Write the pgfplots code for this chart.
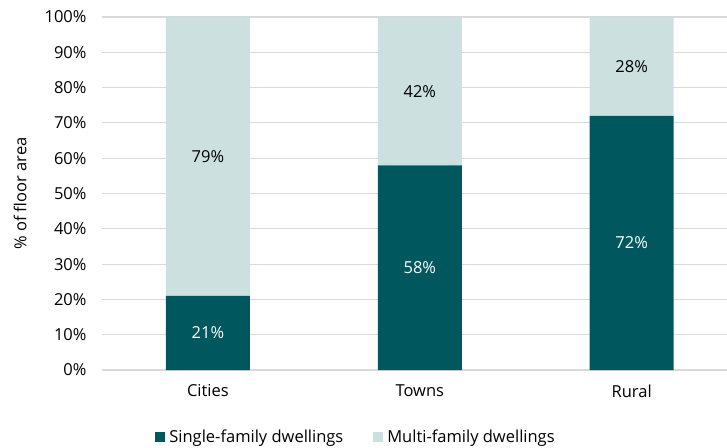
\documentclass[border=0pt]{standalone}
\usepackage{pgfplots}
\pgfplotsset{compat=1.18}
\usepackage{fontspec}
\setmainfont{Open Sans}
\definecolor{single}{RGB}{0,88,94}
\definecolor{multi}{RGB}{205,224,224}
\definecolor{gridgray}{RGB}{217,217,217}
\newcommand{\chartfont}{\fontsize{16.5bp}{19bp}\selectfont}
\begin{document}
\begin{tikzpicture}
\path[use as bounding box] (-102bp,-78bp) rectangle (625bp,370bp);
\begin{axis}[
  at={(0,0)}, anchor=south west,
  scale only axis, width=625bp, height=353bp,
  ybar stacked, bar width=84bp,
  xmin=-0.5, xmax=2.45, ymin=0, ymax=100,
  xtick={0,1,2}, xticklabels={Cities,Towns,Rural},
  ytick={0,10,...,100},
  yticklabel={\pgfmathprintnumber{\tick}\%},
  /pgf/number format/assume math mode=true,
  tick label style={font=\chartfont},
  label style={font=\chartfont},
  ymajorgrids, grid style={draw=gridgray, line width=1.2pt},
  axis line style={draw=none}, major tick length=0pt,
  xticklabel style={yshift=-11bp},
  yticklabel style={xshift=-12bp},
  ylabel={\% of floor area},
  ylabel style={at={(axis description cs:-0.131,0.5)}, anchor=center},
  point meta=explicit,
  nodes near coords={\pgfmathprintnumber{\pgfplotspointmeta}\%},
  every node near coord/.append style={font=\chartfont, anchor=center},
  legend style={at={(axis description cs:0.408,-0.19)}, anchor=center,
    draw=none, legend columns=2, font=\chartfont,
    nodes={inner xsep=4bp},
    /tikz/every even column/.style={column sep=26bp}},
  legend image code/.code={\fill[#1] (0bp,-5bp) rectangle (10bp,5bp);},
]
\addplot[fill=single, draw=none, every node near coord/.append style={text=white}]
  coordinates {(0,21) [21] (1,58) [58] (2,72) [72]};
\addplot[fill=multi, draw=none, every node near coord/.append style={text=black}]
  coordinates {(0,79) [79] (1,42) [42] (2,28) [28]};
\legend{Single-family dwellings, Multi-family dwellings}
\end{axis}
\end{tikzpicture}
\end{document}
